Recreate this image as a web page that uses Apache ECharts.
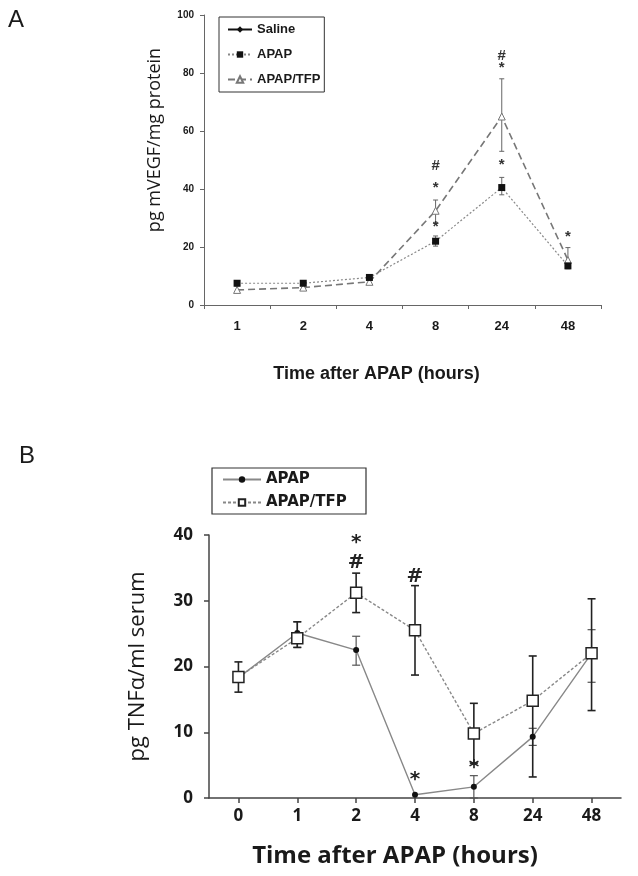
<!DOCTYPE html>
<html><head><meta charset="utf-8">
<script src="https://cdn.jsdelivr.net/npm/echarts@6/dist/echarts.min.js"></script>
<style>html,body{margin:0;padding:0;background:#fff}#c{width:638px;height:876px}</style>
</head><body><div id="c"></div>
<script>
// ---------- Panel A data ----------
const catsA = ['1', '2', '4', '8', '24', '48'];
const salineA = [];
const apapA = [7.5, 7.5, 9.5, 22, 40.5, 13.5];
const tfpA = [5.2, 6.0, 8.0, 32.5, 65, 15.5];
const apapErrA = [[0, 6.6, 8.4], [1, 6.8, 8.2], [2, 8.8, 10.2], [3, 20.3, 23.8], [4, 38, 44], [5, 12.5, 14.5]];
const tfpErrA = [[3, 28.5, 36.2], [4, 53, 78], [5, 13, 19.8]];
const marksA = [[3, 48, '#'], [3, 40.3, '*'], [3, 26.9, '*'], [4, 86, '#'], [4, 81.7, '*'], [4, 48.3, '*'], [5, 23.4, '*']];
const yMaxA = 100, yStepA = 20;

// ---------- Panel B data ----------
const catsB = ['0', '1', '2', '4', '8', '24', '48'];
const apapB = [18.3, 25.1, 22.5, 0.5, 1.7, 9.3, 22];
const tfpB = [18.4, 24.3, 31.2, 25.5, 9.8, 14.8, 22];
const apapErrB = [[1, 22.9, 26.8], [2, 20.2, 24.6], [4, 0, 3.4], [5, 8.0, 10.6], [6, 17.6, 25.6]];
const tfpErrB = [[0, 16.1, 20.7], [1, 22.9, 26.8], [2, 28.2, 34.2], [3, 18.7, 32.3], [4, 5.3, 14.4], [5, 3.2, 21.6], [6, 13.3, 30.3]];
const marksB = [[2, 38.8, '*'], [2, 35.7, '#'], [3, 33.7, '#'], [3, 2.8, '*'], [4, 4.6, '*']];
const yMaxB = 40, yStepB = 10;

const TXT = '#1a1a1a';

function errRender(capW, color, width) {
  return function (params, api) {
    const x = api.value(0), lo = api.value(1), hi = api.value(2);
    const a = api.coord([x, lo]), b = api.coord([x, hi]);
    const h = capW / 2;
    const st = { stroke: color, lineWidth: width };
    return { type: 'group', children: [
      { type: 'line', shape: { x1: a[0], y1: a[1], x2: b[0], y2: b[1] }, style: st },
      { type: 'line', shape: { x1: a[0] - h, y1: a[1], x2: a[0] + h, y2: a[1] }, style: st },
      { type: 'line', shape: { x1: b[0] - h, y1: b[1], x2: b[0] + h, y2: b[1] }, style: st }
    ] };
  };
}
function textRender(arr, font, color) {
  return function (params, api) {
    const p = api.coord([api.value(0), api.value(1)]);
    return { type: 'text', x: p[0], y: p[1], style: {
      text: arr[params.dataIndex][2], font: font, fill: color, align: 'center', verticalAlign: 'middle' } };
  };
}

const chart = echarts.init(document.getElementById('c'), null, { renderer: 'canvas' });
chart.setOption({
  animation: false,
  backgroundColor: '#fff',
  grid: [
    { left: 204, top: 15, width: 397, height: 290 },
    { left: 209, top: 535, width: 412, height: 263 }
  ],
  xAxis: [
    { type: 'category', gridIndex: 0, data: catsA,
      axisLine: { lineStyle: { color: '#666', width: 1 } },
      axisTick: { show: true, length: 4, lineStyle: { color: '#666' } },
      axisLabel: { fontFamily: 'Liberation Sans', fontWeight: 'bold', fontSize: 13, color: TXT, margin: 15 },
      name: 'Time after APAP (hours)', nameLocation: 'middle', nameGap: 60,
      nameTextStyle: { fontFamily: 'Liberation Sans', fontWeight: 'bold', fontSize: 18, color: TXT, padding: [0, 52, 0, 0] } },
    { type: 'category', gridIndex: 1, data: catsB,
      axisLine: { lineStyle: { color: '#444', width: 1.5 } },
      axisTick: { show: true, alignWithLabel: true, length: 5, lineStyle: { color: '#444', width: 1.5 } },
      axisLabel: { fontFamily: 'Open Sans', fontWeight: 'bold', fontSize: 17, color: TXT, margin: 10 },
      name: 'Time after APAP (hours)', nameLocation: 'middle', nameGap: 46,
      nameTextStyle: { fontFamily: 'Open Sans', fontWeight: 'bold', fontSize: 24, color: TXT, padding: [0, 40, 0, 0] } }
  ],
  yAxis: [
    { type: 'value', gridIndex: 0, min: 0, max: yMaxA, interval: yStepA,
      axisLine: { show: true, lineStyle: { color: '#666', width: 1 } },
      axisTick: { show: true, length: 4, lineStyle: { color: '#666' } },
      splitLine: { show: false },
      axisLabel: { fontFamily: 'Liberation Sans', fontWeight: 'bold', fontSize: 10, color: TXT, margin: 10 } },
    { type: 'value', gridIndex: 1, min: 0, max: yMaxB, interval: yStepB,
      axisLine: { show: true, lineStyle: { color: '#444', width: 1.5 } },
      axisTick: { show: true, length: 5, lineStyle: { color: '#444', width: 1.5 } },
      splitLine: { show: false },
      axisLabel: { fontFamily: 'Open Sans', fontWeight: 'bold', fontSize: 17, color: TXT, margin: 16 },
      name: 'pg TNFα/ml serum', nameLocation: 'middle', nameGap: 60,
      nameTextStyle: { fontFamily: 'Open Sans', fontSize: 22, color: TXT } }
  ],
  legend: [
    { data: ['Saline', 'APAP', 'APAP/TFP'], orient: 'vertical', left: 219, top: 17,
      itemWidth: 24, itemHeight: 8, itemGap: 12, padding: [6, 4, 6, 8],
      borderColor: '#333', borderWidth: 1, selectedMode: false,
      textStyle: { fontFamily: 'Liberation Sans', fontWeight: 'bold', fontSize: 13, color: TXT } },
    { data: ['APAP ', 'APAP/TFP '], orient: 'vertical', left: 212, top: 468,
      itemWidth: 38, itemHeight: 8, itemGap: 8, padding: [4, 14, 4, 10],
      borderColor: '#333', borderWidth: 1.2, selectedMode: false,
      textStyle: { fontFamily: 'DejaVu Sans', fontWeight: 'bold', fontSize: 15, color: TXT } }
  ],
  graphic: [
    { type: 'text', left: 8, top: 8, style: { text: 'A', font: '24px "Liberation Sans"', fill: TXT } },
    { type: 'text', left: 19, top: 444, style: { text: 'B', font: '24px "Liberation Sans"', fill: TXT } },
    { type: 'text', x: 155, y: 140, rotation: Math.PI / 2,
      style: { text: 'pg mVEGF/mg protein', font: '18px "Open Sans"', fill: TXT, align: 'center', verticalAlign: 'middle' } }
  ],
  series: [
    // ----- Panel A -----
    { name: 'Saline', type: 'line', xAxisIndex: 0, yAxisIndex: 0, data: salineA,
      symbol: 'diamond', symbolSize: 6, itemStyle: { color: '#111' }, lineStyle: { color: '#111', width: 1.5 } },
    { name: 'APAP', type: 'line', xAxisIndex: 0, yAxisIndex: 0, data: apapA,
      symbol: 'rect', symbolSize: 7, itemStyle: { color: '#111' },
      lineStyle: { color: '#888', width: 1.2, type: [2, 2] }, z: 3 },
    { name: 'APAP/TFP', type: 'line', xAxisIndex: 0, yAxisIndex: 0, data: tfpA,
      symbol: 'triangle', symbolSize: 7, itemStyle: { color: '#fff', borderColor: '#777', borderWidth: 1 },
      lineStyle: { color: '#777', width: 1.6, type: [7, 4] }, z: 2 },
    { type: 'custom', xAxisIndex: 0, yAxisIndex: 0, data: apapErrA, encode: { x: 0, y: [1, 2] },
      renderItem: errRender(5, '#666', 1), z: 1, silent: true },
    { type: 'custom', xAxisIndex: 0, yAxisIndex: 0, data: tfpErrA, encode: { x: 0, y: [1, 2] },
      renderItem: errRender(5, '#666', 1), z: 1, silent: true },
    { type: 'custom', xAxisIndex: 0, yAxisIndex: 0, data: marksA, encode: { x: 0, y: 1 },
      renderItem: textRender(marksA, 'bold 15px "Liberation Sans"', '#333'), z: 5, silent: true },
    // ----- Panel B -----
    { name: 'APAP ', type: 'line', xAxisIndex: 1, yAxisIndex: 1, data: apapB,
      symbol: 'circle', symbolSize: 6, itemStyle: { color: '#111' },
      lineStyle: { color: '#888', width: 1.4 }, z: 2 },
    { name: 'APAP/TFP ', type: 'line', xAxisIndex: 1, yAxisIndex: 1, data: tfpB,
      symbol: 'rect', symbolSize: 11, itemStyle: { color: '#fff', borderColor: '#222', borderWidth: 1.5 },
      lineStyle: { color: '#888', width: 1.4, type: [3, 2] }, z: 3 },
    { type: 'custom', xAxisIndex: 1, yAxisIndex: 1, data: apapErrB, encode: { x: 0, y: [1, 2] },
      renderItem: errRender(8, '#555', 1.2), z: 1, silent: true },
    { type: 'custom', xAxisIndex: 1, yAxisIndex: 1, data: tfpErrB, encode: { x: 0, y: [1, 2] },
      renderItem: errRender(8, '#222', 1.6), z: 1, silent: true },
    { type: 'custom', xAxisIndex: 1, yAxisIndex: 1, data: marksB, encode: { x: 0, y: 1 },
      renderItem: textRender(marksB, 'bold 20px "DejaVu Sans"', '#222'), z: 5, silent: true }
  ]
});
</script>
</body></html>
